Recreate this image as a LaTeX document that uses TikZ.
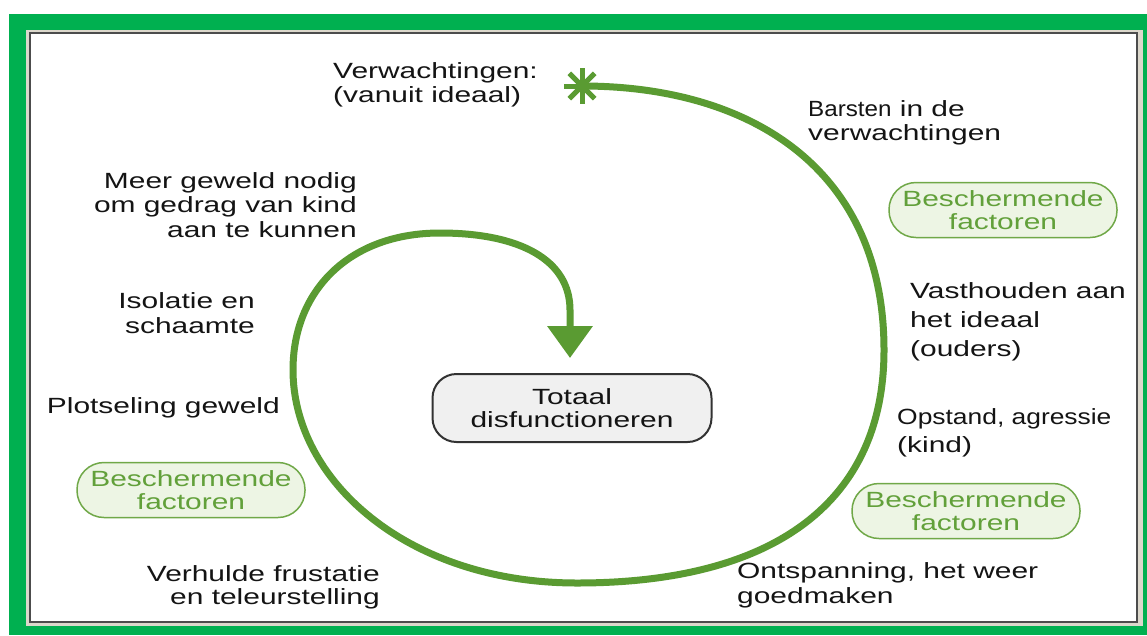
\documentclass[tikz,border=0pt]{standalone}
\usepackage{fontspec}
\setmainfont{Liberation Sans}[FakeStretch=1.36]
\newfontfamily\narrowfont{Liberation Sans}[FakeStretch=1.2]
\newfontfamily\tightfont{Liberation Sans}[FakeStretch=1.1]
\usetikzlibrary{arrows.meta}
\definecolor{framegreen}{RGB}{0,176,80}
\definecolor{framegray}{RGB}{220,216,204}
\definecolor{spiralgreen}{RGB}{90,155,50}
\definecolor{factorfill}{RGB}{237,245,228}
\definecolor{factorline}{RGB}{112,168,72}
\definecolor{factortext}{RGB}{98,160,58}
\tikzset{
  spiral/.style = {draw = spiralgreen, line width = 7pt},
  phase/.style = {text = black!92, font = \fontsize{22}{#1}\selectfont, inner sep = 0pt},
  phase/.default = 24,
  factor/.style = {rectangle, rounded corners = 27pt, draw = factorline, line width = 1.5pt,
    fill = factorfill, text = factortext, minimum width = 228pt, minimum height = 55pt,
    align = center, inner sep = 0pt, font = \fontsize{22}{23}\selectfont},
  total/.style = {rectangle, rounded corners = 24pt, draw = black!80, line width = 2pt,
    fill = black!6, text = black!92, minimum width = 279pt, minimum height = 68pt,
    align = center, inner sep = 0pt, font = \fontsize{22}{23}\selectfont},
}

\begin{document}
\begin{tikzpicture}[x=1pt,y=-1pt]
  \useasboundingbox (0,0) rectangle (1147,635);
% frame
  \fill[white] (0,0) rectangle (1147,635);
  \fill[framegreen] (9,14) rectangle (1147,635);
  \fill[framegray] (26,30) rectangle (1143,626);
  \draw[black!70, line width=1.5pt, fill=white] (30,33) rectangle (1137,622);
% phases
  \node[phase, anchor=west, align=left] (expect) at (333,85) {Verwachtingen:\\(vanuit ideaal)};
  \node[phase, anchor=west, align=left] (cracks) at (808,123) {{\tightfont Barsten} in de\\verwachtingen};
  \node[phase=29, anchor=west, align=left] (hold) at (910,322) {Vasthouden aan\\het ideaal\\(ouders)};
  \node[phase=28, anchor=west, align=left] (revolt) at (897,433) {{\narrowfont Opstand, agressie}\\(kind)};
  \node[phase=25, anchor=west, align=left] (relief) at (737,585) {Ontspanning, het weer\\goedmaken};
  \node[phase=23, anchor=east, align=right] (hidden) at (380,587) {Verhulde frustatie\\en teleurstelling};
  \node[phase, anchor=east] (sudden) at (280,408) {Plotseling geweld};
  \node[phase=25, anchor=east, align=right] (shame) at (255,313) {Isolatie en\\schaamte};
  \node[phase=24.5, anchor=east, align=right] (force) at (357,205) {Meer geweld nodig\\om gedrag van kind\\aan te kunnen};
% protective factors
  \node[factor] (factorA) at (1003,210) {Beschermende\\factoren};
  \node[factor] (factorB) at (966,511) {Beschermende\\factoren};
  \node[factor] (factorC) at (191,490) {Beschermende\\factoren};
% centre
  \node[total] (total) at (572,408) {Totaal\\disfunctioneren};
% spiral
  \coordinate (ideal) at (582,86);
  \coordinate (east) at (884,350);
  \coordinate (south) at (577,583);
  \coordinate (west) at (293,370);
  \coordinate (north) at (440,233);
  \coordinate (drop) at (570,310);
  \coordinate (tip) at (570,358);
  \draw[spiral, -{Triangle[length=32pt,width=44pt]}]
    (ideal) .. controls (752,86) and (884,170) .. (east)
            .. controls (884,500) and (777,583) .. (south)
            .. controls (407,583) and (293,480) .. (west)
            .. controls (293,290) and (350,233) .. (north)
            .. controls (520,233) and (570,260) .. (drop) -- (tip);
  \foreach \a in {0,45,90,135}{
    \draw[spiralgreen, line width=5pt] (ideal) +(\a:18pt) -- +(\a+180:18pt);
  }
\end{tikzpicture}
\end{document}
